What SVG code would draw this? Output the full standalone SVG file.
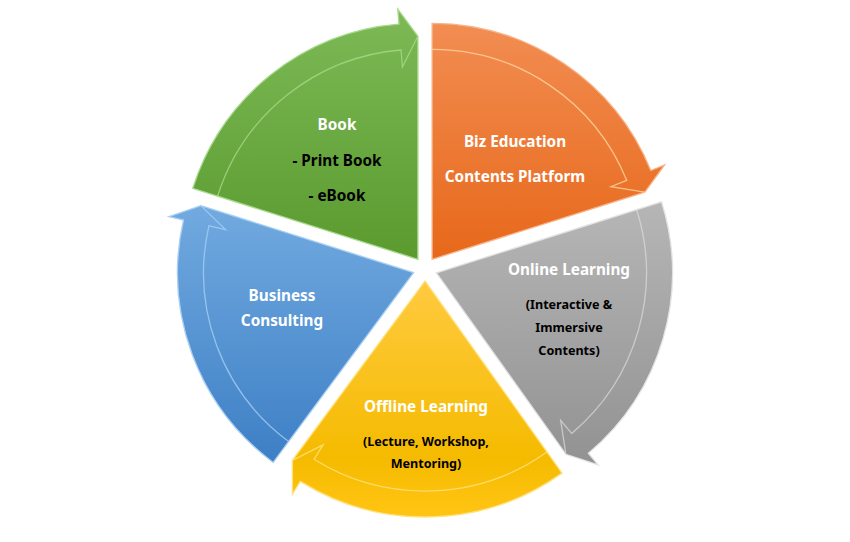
<svg xmlns="http://www.w3.org/2000/svg" width="850" height="542" viewBox="0 0 850 542">
<defs>
<linearGradient id="gGreen" x1="0" y1="0" x2="0" y2="1"><stop offset="0" stop-color="#7dba57"/><stop offset="1" stop-color="#5a9a2e"/></linearGradient>
<linearGradient id="gOrange" x1="0" y1="0" x2="0" y2="1"><stop offset="0" stop-color="#f28d52"/><stop offset="1" stop-color="#e7681a"/></linearGradient>
<linearGradient id="gGray" x1="0" y1="0" x2="0" y2="1"><stop offset="0" stop-color="#b6b6b6"/><stop offset="1" stop-color="#929292"/></linearGradient>
<linearGradient id="gYellow" x1="0" y1="0" x2="0" y2="1"><stop offset="0" stop-color="#ffca40"/><stop offset="0.75" stop-color="#f5bb00"/><stop offset="1" stop-color="#ffc514"/></linearGradient>
<linearGradient id="gBlue" x1="0" y1="0" x2="0" y2="1"><stop offset="0" stop-color="#72aae0"/><stop offset="1" stop-color="#3d7fc5"/></linearGradient>
</defs>
<style>
.seg{stroke-width:1.3;stroke-linejoin:miter}
.hl{fill:none;stroke-width:1.3;stroke-opacity:0.75}
.t{font-family:"Noto Sans","Noto Sans CJK KR",sans-serif;font-weight:bold;text-anchor:middle}
.w{fill:#ffffff;font-size:15.3px}
.b{fill:#000000;font-size:15.3px}
.s{fill:#000000;font-size:12.6px}
</style>
<rect width="850" height="542" fill="#ffffff"/>
<g id="book">
<path class="seg" fill="url(#gGreen)" stroke="#a6d98a" d="M417.9,259.3 L192.8,188.3 A236,236 0 0 1 399.0,24.1 L397.8,9.1 L417.9,36.3 Z"/>
<path class="hl" stroke="#a9dc8c" d="M217.6,196.2 A210,210 0 0 1 401.1,50.0 L402.4,66.9 L417.9,36.3"/>
<text class="t w" x="337" y="130">Book</text>
<text class="t b" x="337" y="166">- Print Book</text>
<text class="t b" x="337" y="201">- eBook</text>
</g>
<g id="platform">
<path class="seg" fill="url(#gOrange)" stroke="#f7b48a" d="M432.1,259.3 L432.1,23.3 A236,236 0 0 1 650.8,170.5 L664.6,164.9 L644.8,192.2 Z"/>
<path class="hl" stroke="#ffd9a8" d="M432.1,49.3 A210,210 0 0 1 626.7,180.3 L610.9,186.7 L644.8,192.2"/>
<text class="t w" x="515" y="147">Biz Education</text>
<text class="t w" x="515" y="182">Contents Platform</text>
</g>
<g id="online">
<path class="seg" fill="url(#gGray)" stroke="#e2e2e2" d="M436.4,272.8 L661.5,201.8 A236,236 0 0 1 588.4,453.3 L598.1,464.8 L565.9,454.3 Z"/>
<path class="hl" stroke="#dadada" d="M636.7,209.7 A210,210 0 0 1 571.7,433.4 L560.7,420.4 L565.9,454.3"/>
<text class="t w" x="569" y="275">Online Learning</text>
<text class="t s" x="569" y="309">(Interactive &amp;</text>
<text class="t s" x="569" y="332">Immersive</text>
<text class="t s" x="569" y="355">Contents)</text>
</g>
<g id="offline">
<path class="seg" fill="url(#gYellow)" stroke="#ffe07a" d="M425,281 L562.0,473.1 A236,236 0 0 1 300.3,481.4 L292.4,494.1 L292.4,460.3 Z"/>
<path class="hl" stroke="#ffe68a" d="M546.9,452.0 A210,210 0 0 1 314.0,459.3 L323.0,444.9 L292.4,460.3"/>
<text class="t w" x="426" y="412">Offline Learning</text>
<text class="t s" x="426" y="446">(Lecture, Workshop,</text>
<text class="t s" x="426" y="468">Mentoring)</text>
</g>
<g id="consulting">
<path class="seg" fill="url(#gBlue)" stroke="#a8d0f2" d="M413.6,272.7 L273.2,462.4 A236,236 0 0 1 183.5,220.0 L168.9,216.7 L200.9,205.6 Z"/>
<path class="hl" stroke="#a9d2f5" d="M288.7,441.5 A210,210 0 0 1 208.9,225.8 L225.5,229.6 L200.9,205.6"/>
<text class="t w" x="282" y="301">Business</text>
<text class="t w" x="282" y="326">Consulting</text>
</g>
</svg>
